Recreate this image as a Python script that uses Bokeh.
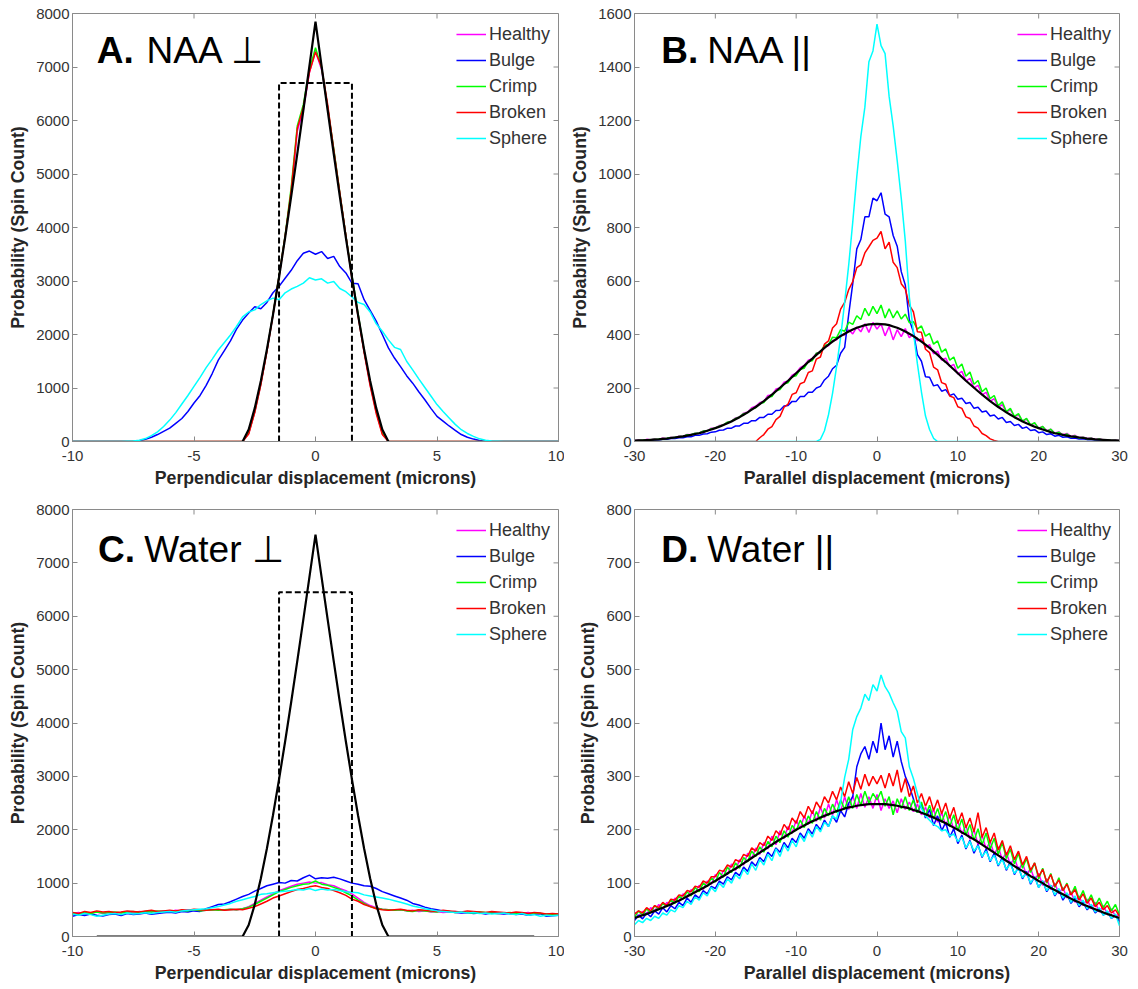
from bokeh.plotting import figure
from bokeh.models import FixedTicker, Legend, LegendItem, Label, Range1d
from bokeh.layouts import column, row
from bokeh.embed import file_html
from bokeh.resources import INLINE

# ---------------- data ----------------
series_names = ["Healthy", "Bulge", "Crimp", "Broken", "Sphere"]
series_colors = ["#ff00ff", "#0000ff", "#00ff00", "#ff0000", "#00ffff"]

# bin centres
x_perp = [round(-10 + 0.25 * i, 2) for i in range(81)]   # -10 .. 10 microns
x_par = [round(-30 + 0.5 * i, 1) for i in range(121)]    # -30 .. 30 microns

# ---- A. NAA perpendicular (rows of 8 = 2 microns) ----
naa_perp_healthy = [0]*24 + [
    0, 0, 0, 0, 0, 150, 550, 1070,
    1690, 2370, 3090, 3840, 4650, 5800, 6200, 6900,
    7300, 6950, 6250, 5460, 4640, 3840, 3080, 2380,
    1690, 1060, 550, 150, 0, 0, 0, 0] + [0]*24 + [0]
naa_perp_bulge = [
    0, 0, 0, 0, 0, 0, 0, 0,
    0, 0, 0, 15, 40, 80, 130, 190,
    250, 340, 430, 560, 720, 860, 1050, 1270,
    1520, 1700, 1880, 2100, 2270, 2400, 2520, 2480,
    2600, 2780, 2900, 3050, 3200, 3380, 3520, 3560,
    3500, 3550, 3420, 3460, 3270, 3150, 2960, 2950,
    2650, 2450, 2250, 2000, 1750, 1560, 1400, 1230,
    1090, 930, 780, 620, 470, 380, 290, 210,
    130, 80, 45, 20, 5, 0, 0, 0,
    0, 0, 0, 0, 0, 0, 0, 0,
    0]
naa_perp_crimp = [0]*24 + [
    0, 0, 0, 0, 0, 160, 560, 1080,
    1700, 2380, 3100, 3850, 4750, 5900, 6300, 6950,
    7360, 6980, 6250, 5480, 4650, 3850, 3100, 2400,
    1700, 1080, 560, 160, 0, 0, 0, 0] + [0]*24 + [0]
naa_perp_broken = [0]*24 + [
    0, 0, 0, 0, 0, 140, 540, 1060,
    1680, 2360, 3080, 3830, 4700, 5850, 6250, 6900,
    7280, 7000, 6300, 5450, 4650, 3850, 3050, 2350,
    1660, 1040, 520, 130, 0, 0, 0, 0] + [0]*24 + [0]
naa_perp_sphere = [
    0, 0, 0, 0, 0, 0, 0, 0,
    0, 5, 10, 25, 55, 110, 180, 280,
    400, 540, 700, 860, 1030, 1200, 1380, 1540,
    1710, 1850, 1990, 2150, 2330, 2420, 2460, 2560,
    2630, 2680, 2650, 2780, 2850, 2900, 2960, 3060,
    3020, 3040, 2960, 2990, 2860, 2800, 2700, 2600,
    2560, 2420, 2200, 2060, 1900, 1760, 1720, 1500,
    1340, 1170, 1010, 850, 690, 560, 440, 320,
    220, 150, 95, 50, 25, 10, 5, 0,
    0, 0, 0, 0, 0, 0, 0, 0,
    0]
naa_perp_theory = [0]*24 + [
    0, 0, 0, 0, 0, 225, 623, 1133,
    1720, 2367, 3070, 3809, 4581, 5377, 6192, 7019,
    7850, 7019, 6192, 5377, 4581, 3809, 3070, 2367,
    1720, 1133, 623, 225, 0, 0, 0, 0] + [0]*24 + [0]

# ---- C. Water perpendicular ----
water_perp_healthy = [
    430, 450, 420, 440, 460, 430, 450, 440,
    450, 460, 440, 470, 455, 470, 460, 480,
    470, 490, 480, 500, 490, 480, 490, 500,
    500, 490, 510, 500, 520, 560, 620, 680,
    740, 800, 860, 900, 940, 980, 1000, 1020,
    1000, 1010, 970, 950, 900, 860, 800, 720,
    640, 580, 540, 510, 500, 490, 500, 480,
    490, 470, 480, 460, 470, 450, 460, 470,
    450, 440, 460, 450, 430, 450, 440, 430,
    440, 420, 430, 450, 420, 430, 410, 420,
    420]
water_perp_bulge = [
    380, 410, 395, 420, 400, 385, 410, 420,
    395, 430, 410, 420, 440, 415, 430, 445,
    455, 440, 470, 460, 480, 470, 520, 560,
    600, 610, 650, 700, 750, 790, 850, 900,
    950, 980, 1010, 1000, 1050, 1040, 1100, 1150,
    1080, 1100, 1090, 1110, 1080, 1040, 1000, 980,
    950, 940, 900, 840, 800, 760, 720, 680,
    620, 590, 550, 520, 500, 480, 470, 450,
    440, 450, 430, 440, 420, 440, 430, 420,
    430, 410, 420, 400, 415, 430, 380, 390,
    400]
water_perp_crimp = [
    440, 420, 450, 430, 460, 440, 450, 460,
    440, 460, 470, 450, 470, 460, 480, 470,
    480, 470, 490, 480, 500, 480, 490, 500,
    490, 500, 510, 500, 520, 550, 600, 660,
    720, 780, 840, 880, 920, 950, 980, 990,
    1040, 980, 960, 920, 880, 820, 760, 680,
    620, 560, 530, 510, 500, 490, 500, 480,
    470, 490, 480, 470, 460, 480, 470, 450,
    460, 450, 440, 460, 450, 440, 430, 440,
    450, 430, 440, 420, 440, 430, 420, 410,
    420]
water_perp_broken = [
    450, 430, 470, 450, 480, 460, 470, 450,
    460, 480, 470, 460, 480, 490, 470, 480,
    490, 480, 500, 490, 510, 500, 490, 500,
    510, 490, 500, 510, 500, 530, 560, 610,
    660, 720, 760, 800, 840, 880, 900, 930,
    950, 920, 900, 860, 820, 770, 700, 660,
    600, 560, 520, 500, 490, 500, 510, 490,
    480, 500, 490, 480, 470, 490, 480, 470,
    460, 480, 470, 460, 450, 470, 460, 450,
    440, 460, 450, 430, 450, 440, 420, 430,
    420]
water_perp_sphere = [
    420, 400, 430, 410, 380, 400, 420, 430,
    410, 440, 420, 430, 445, 430, 450, 460,
    470, 455, 480, 490, 500, 510, 520, 540,
    560, 590, 620, 660, 690, 720, 750, 790,
    800, 820, 840, 850, 860, 880, 870, 900,
    860, 890, 870, 880, 860, 840, 830, 820,
    780, 760, 740, 720, 700, 670, 640, 610,
    570, 550, 520, 500, 480, 470, 460, 450,
    460, 440, 450, 430, 440, 420, 430, 440,
    420, 410, 430, 400, 410, 380, 400, 390,
    400]
water_perp_theory = [0]*24 + [
    0, 0, 0, 0, 0, 216, 598, 1087,
    1650, 2271, 2945, 3654, 4394, 5158, 5940, 6733,
    7530, 6733, 5940, 5158, 4394, 3654, 2945, 2271,
    1650, 1087, 598, 216, 0, 0, 0, 0] + [0]*24 + [0]

# ---- B. NAA parallel (rows of 10 = 5 microns) ----
naa_par_healthy = [
    3, 6, 4, 8, 6, 10, 8, 13, 11, 16,
    15, 20, 19, 26, 25, 31, 32, 40, 40, 50,
    50, 60, 62, 72, 76, 88, 92, 106, 110, 126,
    132, 146, 150, 172, 174, 196, 200, 222, 226, 248,
    256, 276, 284, 304, 310, 330, 334, 356, 358, 378,
    380, 400, 398, 418, 402, 428, 410, 440, 408, 445,
    420, 440, 395, 430, 380, 418, 392, 422, 388, 402,
    376, 384, 352, 362, 328, 338, 304, 312, 280, 288,
    252, 262, 226, 236, 200, 210, 174, 184, 150, 160,
    128, 138, 110, 118, 92, 100, 76, 84, 62, 68,
    50, 56, 40, 46, 32, 36, 25, 30, 19, 23,
    14, 17, 11, 13, 8, 10, 6, 7, 4, 5,
    3]
naa_par_bulge = [
    2, 3, 3, 4, 4, 6, 6, 8, 8, 11,
    11, 14, 14, 18, 18, 23, 23, 28, 29, 35,
    36, 42, 43, 50, 50, 58, 58, 68, 68, 78,
    78, 90, 90, 102, 102, 116, 117, 133, 135, 150,
    150, 168, 168, 184, 184, 200, 206, 230, 244, 272,
    285, 330, 352, 475, 590, 720, 755, 840, 840, 910,
    900, 930, 850, 840, 770, 730, 635, 585, 455, 410,
    325, 300, 242, 240, 208, 212, 188, 194, 172, 178,
    158, 162, 142, 146, 124, 128, 110, 114, 95, 99,
    84, 90, 71, 75, 60, 64, 49, 54, 41, 44,
    33, 36, 26, 29, 20, 23, 16, 18, 12, 13,
    9, 10, 7, 7, 5, 5, 3, 3, 2, 2,
    1]
naa_par_crimp = [
    3, 4, 5, 6, 7, 8, 9, 11, 12, 15,
    15, 19, 19, 25, 25, 31, 32, 39, 40, 48,
    50, 58, 62, 72, 76, 86, 92, 104, 108, 122,
    126, 142, 146, 166, 168, 190, 194, 216, 220, 242,
    246, 270, 274, 300, 302, 330, 332, 360, 362, 390,
    388, 418, 412, 446, 438, 470, 456, 498, 470, 505,
    478, 510, 462, 496, 462, 488, 458, 476, 444, 448,
    420, 432, 394, 404, 364, 376, 334, 346, 304, 316,
    274, 290, 244, 260, 214, 228, 186, 200, 160, 172,
    134, 148, 112, 124, 94, 104, 76, 86, 62, 70,
    48, 56, 38, 46, 30, 35, 23, 28, 17, 21,
    13, 16, 10, 12, 7, 9, 5, 6, 4, 4,
    3]
naa_par_broken = [0]*30 + [
    0, 14, 26, 46, 56, 82, 94, 128, 140, 176,
    182, 216, 222, 258, 264, 308, 316, 364, 376, 424,
    440, 495, 520, 568, 598, 650, 660, 705, 728, 752,
    760, 785, 720, 745, 670, 650, 590, 570, 510, 485,
    410, 408, 345, 332, 278, 268, 220, 214, 170, 164,
    130, 124, 92, 86, 58, 50, 30, 22, 10, 4] + [0]*30 + [0]
naa_par_sphere = [0]*40 + [
    0, 0, 0, 0, 0, 0, 8, 40, 100, 180,
    280, 390, 520, 660, 820, 990, 1140, 1250, 1420, 1460,
    1560, 1480, 1450, 1290, 1180, 1050, 910, 750, 540, 410,
    290, 185, 95, 45, 12, 0, 0, 0, 0, 0] + [0]*40 + [0]
naa_par_theory = [
    3, 4, 4, 5, 6, 7, 8, 10, 11, 13,
    15, 17, 19, 22, 25, 28, 31, 35, 40, 45,
    50, 55, 62, 68, 75, 83, 91, 100, 109, 119,
    129, 140, 151, 163, 175, 188, 201, 214, 227, 241,
    255, 269, 283, 297, 310, 324, 337, 350, 362, 373,
    384, 394, 403, 411, 419, 425, 430, 435, 438, 439,
    440, 439, 438, 435, 430, 425, 419, 411, 403, 394,
    384, 373, 362, 350, 337, 324, 310, 297, 283, 269,
    255, 241, 227, 214, 201, 188, 175, 163, 151, 140,
    129, 119, 109, 100, 91, 83, 75, 68, 62, 55,
    50, 45, 40, 35, 31, 28, 25, 22, 19, 17,
    15, 13, 11, 10, 8, 7, 6, 5, 4, 4,
    3]

# ---- D. Water parallel ----
water_par_healthy = [
    45, 38, 47, 42, 54, 48, 60, 52, 64, 60,
    72, 66, 80, 74, 88, 82, 96, 88, 104, 98,
    116, 106, 124, 116, 136, 124, 144, 134, 156, 146,
    166, 154, 176, 164, 188, 172, 198, 184, 206, 194,
    218, 202, 226, 210, 236, 216, 242, 222, 248, 228,
    256, 234, 262, 238, 264, 240, 268, 242, 262, 240,
    266, 236, 258, 240, 254, 232, 258, 238, 252, 234,
    248, 228, 242, 222, 238, 214, 232, 208, 226, 200,
    216, 192, 208, 182, 200, 172, 190, 164, 178, 154,
    168, 144, 158, 134, 148, 124, 138, 114, 128, 106,
    118, 96, 108, 88, 100, 80, 92, 72, 84, 64,
    76, 58, 70, 52, 64, 46, 58, 42, 52, 38,
    42]
water_par_bulge = [
    30, 40, 33, 44, 37, 48, 42, 54, 46, 58,
    52, 64, 58, 72, 64, 78, 72, 86, 80, 94,
    90, 104, 98, 112, 106, 120, 114, 130, 122, 140,
    132, 148, 140, 158, 150, 166, 158, 176, 166, 184,
    176, 194, 184, 202, 192, 210, 200, 218, 206, 226,
    214, 236, 224, 250, 262, 318, 342, 356, 332, 366,
    344, 400, 350, 376, 336, 366, 328, 300, 282, 258,
    232, 248, 222, 238, 208, 226, 198, 214, 186, 202,
    174, 190, 164, 180, 156, 172, 148, 164, 140, 156,
    132, 148, 124, 140, 116, 130, 108, 122, 98, 112,
    92, 104, 84, 96, 76, 88, 68, 80, 62, 72,
    56, 64, 50, 58, 44, 52, 40, 46, 34, 40,
    28]
water_par_crimp = [
    36, 48, 40, 52, 44, 58, 50, 62, 56, 68,
    62, 76, 70, 84, 76, 92, 84, 100, 94, 110,
    102, 120, 112, 130, 120, 138, 128, 148, 140, 160,
    150, 168, 158, 178, 168, 188, 176, 198, 186, 208,
    198, 218, 204, 226, 212, 234, 218, 240, 226, 248,
    232, 256, 238, 262, 240, 266, 246, 272, 250, 268,
    256, 272, 244, 262, 228, 258, 240, 262, 236, 256,
    232, 252, 226, 246, 220, 240, 214, 234, 206, 228,
    198, 220, 190, 210, 180, 202, 172, 194, 164, 184,
    154, 176, 146, 164, 136, 156, 128, 146, 120, 138,
    108, 128, 100, 118, 92, 110, 86, 100, 78, 94,
    70, 86, 64, 78, 58, 72, 54, 66, 48, 60,
    40]
water_par_broken = [
    42, 48, 44, 54, 48, 58, 54, 64, 58, 70,
    68, 78, 76, 86, 84, 94, 92, 104, 100, 112,
    112, 124, 122, 134, 130, 144, 140, 154, 150, 166,
    160, 176, 170, 188, 180, 198, 190, 210, 200, 222,
    212, 234, 222, 244, 230, 252, 240, 262, 250, 272,
    256, 280, 262, 290, 268, 298, 276, 304, 282, 300,
    286, 302, 278, 306, 282, 312, 270, 296, 262, 282,
    250, 268, 244, 262, 236, 256, 230, 250, 222, 242,
    212, 232, 204, 222, 196, 232, 186, 204, 176, 194,
    162, 180, 152, 170, 144, 160, 134, 150, 124, 138,
    112, 126, 102, 116, 94, 106, 86, 98, 78, 88,
    68, 80, 62, 72, 56, 64, 50, 58, 44, 50,
    38]
water_par_sphere = [
    22, 30, 26, 34, 30, 38, 34, 44, 40, 50,
    46, 58, 54, 66, 60, 74, 68, 82, 76, 92,
    84, 100, 92, 108, 100, 116, 108, 126, 116, 136,
    124, 144, 134, 154, 142, 164, 150, 172, 160, 180,
    168, 190, 178, 198, 186, 206, 196, 214, 206, 226,
    220, 252, 298, 332, 388, 412, 428, 454, 442, 472,
    460, 490, 468, 456, 438, 422, 384, 372, 318, 296,
    268, 240, 226, 218, 210, 206, 198, 200, 188, 192,
    178, 186, 166, 178, 160, 170, 150, 160, 142, 152,
    134, 144, 126, 136, 118, 128, 110, 120, 100, 112,
    92, 104, 86, 96, 78, 90, 72, 82, 64, 76,
    58, 68, 52, 60, 46, 54, 40, 48, 34, 42,
    20]
water_par_theory = [
    35, 37, 40, 42, 45, 48, 51, 54, 57, 60,
    64, 67, 71, 75, 79, 83, 87, 91, 95, 100,
    104, 109, 113, 118, 123, 127, 132, 137, 142, 147,
    152, 157, 162, 167, 172, 177, 182, 186, 191, 195,
    200, 204, 208, 212, 216, 219, 223, 226, 229, 232,
    235, 237, 240, 242, 243, 245, 246, 247, 248, 248,
    248, 248, 248, 247, 246, 245, 243, 242, 240, 237,
    235, 232, 229, 226, 223, 219, 216, 212, 208, 204,
    200, 195, 191, 186, 182, 177, 172, 167, 162, 157,
    152, 147, 142, 137, 132, 127, 123, 118, 113, 109,
    104, 100, 95, 91, 87, 83, 79, 75, 71, 67,
    64, 60, 57, 54, 51, 48, 45, 42, 40, 37,
    35]

# dashed boxes (cylinder diameter) in the perpendicular panels
box_x = [-1.5, -1.5, 1.5, 1.5]
box_naa_y = [0, 6700, 6700, 0]
box_water_y = [0, 6450, 6450, 0]

# axes
perp_xticks = [-10, -5, 0, 5, 10]
par_xticks = [-30, -20, -10, 0, 10, 20, 30]
perp_yticks = [0, 1000, 2000, 3000, 4000, 5000, 6000, 7000, 8000]
naa_par_yticks = [0, 200, 400, 600, 800, 1000, 1200, 1400, 1600]
water_par_yticks = [0, 100, 200, 300, 400, 500, 600, 700, 800]

for nm, arr, n in [
    ("naa_perp_healthy", naa_perp_healthy, 81), ("naa_perp_bulge", naa_perp_bulge, 81),
    ("naa_perp_crimp", naa_perp_crimp, 81), ("naa_perp_broken", naa_perp_broken, 81),
    ("naa_perp_sphere", naa_perp_sphere, 81), ("naa_perp_theory", naa_perp_theory, 81),
    ("water_perp_healthy", water_perp_healthy, 81), ("water_perp_bulge", water_perp_bulge, 81),
    ("water_perp_crimp", water_perp_crimp, 81), ("water_perp_broken", water_perp_broken, 81),
    ("water_perp_sphere", water_perp_sphere, 81), ("water_perp_theory", water_perp_theory, 81),
    ("naa_par_healthy", naa_par_healthy, 121), ("naa_par_bulge", naa_par_bulge, 121),
    ("naa_par_crimp", naa_par_crimp, 121), ("naa_par_broken", naa_par_broken, 121),
    ("naa_par_sphere", naa_par_sphere, 121), ("naa_par_theory", naa_par_theory, 121),
    ("water_par_healthy", water_par_healthy, 121), ("water_par_bulge", water_par_bulge, 121),
    ("water_par_crimp", water_par_crimp, 121), ("water_par_broken", water_par_broken, 121),
    ("water_par_sphere", water_par_sphere, 121), ("water_par_theory", water_par_theory, 121)]:
    if len(arr) != n:
        raise ValueError(f"{nm} has {len(arr)} values, expected {n}")

# ---------------- styling ----------------
FONT = "Liberation Sans"
FRAME_GRAY = "#8a8a8a"
TEXT_GRAY = "#333333"
TICK_LEN = 5


def make_panel(xs, curves, theory_x, theory_y, box_y, xr, yr, xticks, yticks,
               xlabel, tag, name, tag_pos, name_pos, fw, fh, borders):
    bl, br, bt, bb = borders
    p = figure(frame_width=fw, frame_height=fh,
               x_range=Range1d(*xr), y_range=Range1d(*yr),
               output_backend="svg", toolbar_location=None,
               min_border_left=bl, min_border_right=br,
               min_border_top=bt, min_border_bottom=bb,
               background_fill_color="white", border_fill_color="white")
    p.grid.visible = False
    p.outline_line_color = FRAME_GRAY
    p.outline_line_width = 1

    for ax, ticks in ((p.xaxis[0], xticks), (p.yaxis[0], yticks)):
        ax.ticker = FixedTicker(ticks=ticks)
        ax.major_label_overrides = {t: str(t) for t in ticks}
        ax.major_tick_in = TICK_LEN
        ax.major_tick_out = 0
        ax.minor_tick_in = 0
        ax.minor_tick_out = 0
        ax.major_tick_line_color = FRAME_GRAY
        ax.axis_line_color = FRAME_GRAY
        ax.major_label_text_font = FONT
        ax.major_label_text_font_size = "15px"
        ax.major_label_text_color = TEXT_GRAY
        ax.axis_label_text_font = FONT
        ax.axis_label_text_font_size = "17.7px"
        ax.axis_label_text_font_style = "bold"
        ax.axis_label_text_color = "#262626"
    p.xaxis[0].axis_label = xlabel
    p.xaxis[0].major_label_standoff = 9
    p.xaxis[0].axis_label_standoff = 4
    p.yaxis[0].axis_label = "Probability (Spin Count)"
    p.yaxis[0].major_label_standoff = 3
    p.yaxis[0].axis_label_standoff = 5

    # mirrored inward ticks on the top and right edges of the box
    dy = TICK_LEN * (yr[1] - yr[0]) / fh
    dx = TICK_LEN * (xr[1] - xr[0]) / fw
    p.segment(x0=xticks, y0=[yr[1]] * len(xticks), x1=xticks, y1=[yr[1] - dy] * len(xticks),
              line_color=FRAME_GRAY, line_width=1)
    p.segment(x0=[xr[1]] * len(yticks), y0=yticks, x1=[xr[1] - dx] * len(yticks), y1=yticks,
              line_color=FRAME_GRAY, line_width=1)

    rends = []
    for ys, color in zip(curves, series_colors):
        rends.append(p.line(xs, ys, line_color=color, line_width=1.5))

    if box_y is not None:
        p.line(box_x, box_y, line_color="black", line_width=2, line_dash="6 3")
    p.line(theory_x, theory_y, line_color="black", line_width=2.2)

    legend = Legend(items=[LegendItem(label=n, renderers=[r]) for n, r in zip(series_names, rends)],
                    location="top_right", margin=8, padding=0, spacing=0,
                    glyph_width=30, glyph_height=26, label_height=26, label_standoff=3,
                    label_text_font=FONT, label_text_font_size="18px",
                    label_text_color=TEXT_GRAY, border_line_color=None,
                    background_fill_alpha=0)
    p.add_layout(legend)

    p.add_layout(Label(x=tag_pos[0], y=tag_pos[1], text=tag, text_font=FONT,
                       text_font_style="bold", text_font_size="37px", text_color="black",
                       text_baseline="alphabetic"))
    p.add_layout(Label(x=name_pos[0], y=name_pos[1], text=name, text_font=FONT,
                       text_font_size="37px", text_color="black",
                       text_baseline="alphabetic"))
    return p


def clip(xs, ys, lim):
    pts = [(x, y) for x, y in zip(xs, ys) if abs(x) <= lim]
    return [a for a, _ in pts], [b for _, b in pts]


ta_x, ta_y = clip(x_perp, naa_perp_theory, 3.0)
tc_x, tc_y = clip(x_perp, water_perp_theory, 9.0)

pA = make_panel(x_perp,
                [naa_perp_healthy, naa_perp_bulge, naa_perp_crimp, naa_perp_broken, naa_perp_sphere],
                ta_x, ta_y, box_naa_y, (-10, 10), (0, 8000), perp_xticks, perp_yticks,
                "Perpendicular displacement (microns)", "A.", "NAA \u22a5",
                (-9.0, 7300), (-6.95, 7300), 486, 428, (72, 6, 13, 60))
pB = make_panel(x_par,
                [naa_par_healthy, naa_par_bulge, naa_par_crimp, naa_par_broken, naa_par_sphere],
                x_par, naa_par_theory, None, (-30, 30), (0, 1600), par_xticks, naa_par_yticks,
                "Parallel displacement (microns)", "B.", "NAA ||",
                (-26.7, 1460), (-21.0, 1460), 485, 428, (70, 10, 13, 60))
pC = make_panel(x_perp,
                [water_perp_healthy, water_perp_bulge, water_perp_crimp, water_perp_broken, water_perp_sphere],
                tc_x, tc_y, box_water_y, (-10, 10), (0, 8000), perp_xticks, perp_yticks,
                "Perpendicular displacement (microns)", "C.", "Water \u22a5",
                (-8.95, 7250), (-7.05, 7250), 486, 427, (72, 6, 8, 45))
pD = make_panel(x_par,
                [water_par_healthy, water_par_bulge, water_par_crimp, water_par_broken, water_par_sphere],
                x_par, water_par_theory, None, (-30, 30), (0, 800), par_xticks, water_par_yticks,
                "Parallel displacement (microns)", "D.", "Water ||",
                (-26.7, 725), (-21.0, 725), 485, 427, (70, 10, 8, 45))

layout = column(row(pA, pB, spacing=0), row(pC, pD, spacing=0), spacing=0)

open("out.html", "w").write(file_html(layout, INLINE))
